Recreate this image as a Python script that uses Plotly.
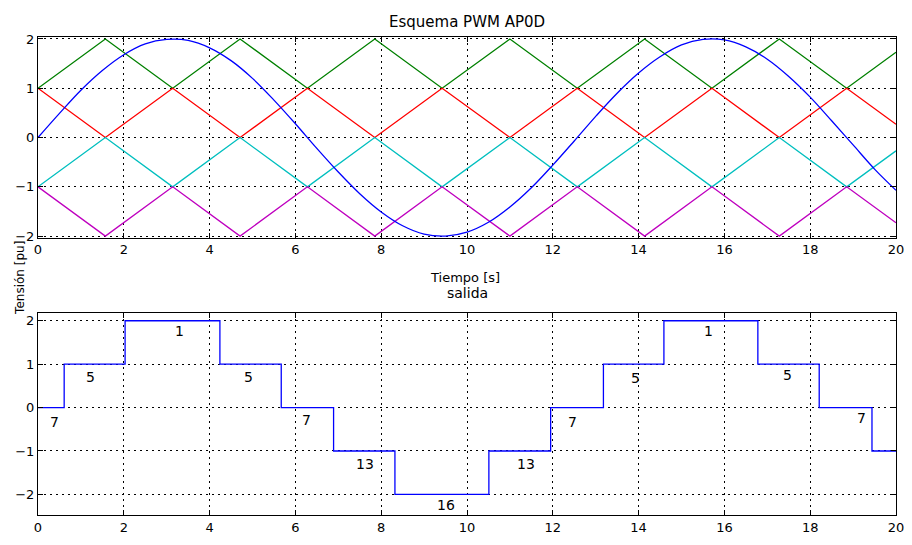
import plotly.graph_objects as go

# ---- top panel data ----
t_sine = [0, 0.5, 1, 1.5, 2, 2.5, 3, 3.5, 4, 4.5, 5, 5.5, 6, 6.5, 7, 7.5, 8, 8.5, 9, 9.5,
          10, 10.5, 11, 11.5, 12, 12.5, 13, 13.5, 14, 14.5, 15, 15.5, 16, 16.5, 17, 17.5,
          18, 18.5, 19, 19.5, 20]
v_sine = [0.0, 0.49, 0.96, 1.36, 1.68, 1.90, 1.99, 1.97, 1.82, 1.56, 1.20, 0.76, 0.28,
          -0.22, -0.70, -1.14, -1.51, -1.79, -1.96, -2.0, -1.92, -1.72, -1.41, -1.02,
          -0.56, -0.07, 0.43, 0.90, 1.31, 1.64, 1.88, 1.99, 1.98, 1.84, 1.59, 1.24, 0.82,
          0.34, -0.15, -0.64, -1.07]

t_tri = [0, 1.57, 3.14, 4.71, 6.28, 7.85, 9.42, 11.0, 12.57, 14.14, 15.71, 17.28, 18.85, 20]
v_green = [1, 2, 1, 2, 1, 2, 1, 2, 1, 2, 1, 2, 1, 1.73]
v_red = [1, 0, 1, 0, 1, 0, 1, 0, 1, 0, 1, 0, 1, 0.27]
v_cyan = [-1, 0, -1, 0, -1, 0, -1, 0, -1, 0, -1, 0, -1, -0.27]
v_magenta = [-1, -2, -1, -2, -1, -2, -1, -2, -1, -2, -1, -2, -1, -1.73]

# ---- bottom panel data ----
t_step = [0, 0.61, 2.03, 4.24, 5.67, 6.89, 8.32, 10.51, 11.95, 13.18, 14.59, 16.78, 18.21, 19.44, 20]
v_step = [0, 1, 2, 1, 0, -1, -2, -1, 0, 1, 2, 1, 0, -1, -1]

lbl_text = ["7", "5", "1", "5", "7", "13", "16", "13", "7", "5", "1", "5", "7"]
lbl_x = [0.39, 1.23, 3.29, 4.9, 6.27, 7.63, 9.52, 11.37, 12.46, 13.93, 15.62, 17.48, 19.2]
lbl_y = [-0.33, 0.71, 1.77, 0.71, -0.29, -1.29, -2.24, -1.3, -0.33, 0.69, 1.77, 0.75, -0.23]

ticks_x = [0, 2, 4, 6, 8, 10, 12, 14, 16, 18, 20]
ticks_y = [-2, -1, 0, 1, 2]

W, H = 912, 545
FONT = "DejaVu Sans, Liberation Sans, Arial, sans-serif"

fig = go.Figure()

def line(x, y, color, xa, ya, shape="linear", width=1.3):
    fig.add_trace(go.Scatter(x=x, y=y, mode="lines", xaxis=xa, yaxis=ya,
                             line=dict(color=color, width=width, shape=shape),
                             showlegend=False, hoverinfo="skip"))

line(t_tri, v_green, "#008000", "x", "y")
line(t_tri, v_red, "#ff0000", "x", "y")
line(t_tri, v_cyan, "#00bfbf", "x", "y")
line(t_tri, v_magenta, "#bf00bf", "x", "y")
line(t_sine, v_sine, "#0000ff", "x", "y", shape="spline")
line(t_step, v_step, "#0000ff", "x2", "y2", shape="hv")

for tx, x, y in zip(lbl_text, lbl_x, lbl_y):
    fig.add_annotation(x=x, y=y, xref="x2", yref="y2", text=tx, showarrow=False,
                       font=dict(family=FONT, size=14, color="black"))

def pyfrac(py):
    return 1 - py / H

axis_common = dict(showline=True, linecolor="black", linewidth=1, mirror="ticks",
                   ticks="inside", ticklen=5, tickcolor="black",
                   showgrid=True, gridcolor="black", gridwidth=1, griddash="2px,4px",
                   zeroline=False, tickfont=dict(family=FONT, size=13, color="black"))

fig.update_layout(
    width=W, height=H,
    margin=dict(l=38, r=16, t=0, b=0),
    paper_bgcolor="white", plot_bgcolor="white",
    xaxis=dict(domain=[0, 1], anchor="y", range=[0, 20], tickvals=ticks_x, **axis_common),
    yaxis=dict(domain=[pyfrac(237), pyfrac(32)], anchor="x", range=[-2.034, 2.034],
               tickvals=ticks_y, **axis_common),
    xaxis2=dict(domain=[0, 1], anchor="y2", range=[0, 20], tickvals=ticks_x, **axis_common),
    yaxis2=dict(domain=[pyfrac(520.7), pyfrac(314.3)], anchor="x2", range=[-2.48, 2.17],
                tickvals=ticks_y, **axis_common),
)

def ptext(text, px, py, size=12, angle=0):
    fig.add_annotation(x=(px - 38) / (W - 38 - 16), y=pyfrac(py), xref="paper", yref="paper",
                       text=text, showarrow=False, textangle=angle,
                       font=dict(family=FONT, size=size, color="black"),
                       xanchor="center", yanchor="middle")

ptext("Esquema PWM AP0D", 467, 16, 15)
ptext("Tiempo [s]", 465, 278, 13)
ptext("salida", 467, 293, 14)
ptext("Tensión [pu]", 20, 278, 12, angle=-90)

fig.write_html("out.html", config={"displayModeBar": False},
               post_script="document.body.style.margin='0';document.body.style.overflow='hidden';")
